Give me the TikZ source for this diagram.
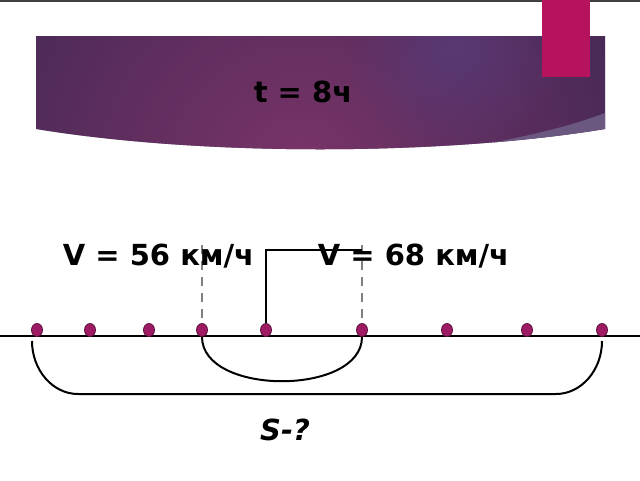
\documentclass[tikz,border=0pt]{standalone}
\usepackage{fontspec}
\setmainfont{DejaVu Sans}
\usetikzlibrary{shapes.geometric,fadings}
\definecolor{bandark}{HTML}{3F2853}
\definecolor{banmid}{HTML}{7A3468}
\definecolor{banglow}{HTML}{583874}
\definecolor{banwedge}{HTML}{6A5880}
\definecolor{pinkbar}{HTML}{B5135E}
\definecolor{dotfill}{HTML}{9E1B64}
\definecolor{dotedge}{HTML}{5A0F3C}
\tikzfading[name=glowfade, inner color=transparent!0, outer color=transparent!100]
\begin{document}
\begin{tikzpicture}[x=1pt,y=-1pt,
  dotnode/.style={ellipse, draw=dotedge, line width=0.8pt, fill=dotfill, minimum width=11pt, minimum height=13pt, inner sep=0pt},
  bigtext/.style={font=\fontsize{29}{34}\selectfont\bfseries, inner sep=0pt, anchor=base},
  axisline/.style={line width=2.8pt, black},
  bracketline/.style={line width=2pt, black},
  guideline/.style={dash pattern=on 9pt off 7pt, black!50, line width=1.1pt}]
\useasboundingbox (0,0) rectangle (640,480);
\fill[white] (0,0) rectangle (640,480);
\draw[line width=2pt, black!75] (0,1) -- (640,1);
% banner
\begin{scope}
  \clip (36,36) -- (605,36) -- (605,129) .. controls (440,156) and (200,156) .. (36,129) -- cycle;
  \fill[bandark] (0,0) rectangle (640,200);
  \fill[banmid, path fading=glowfade] (300,175) circle (400);
  \fill[banglow, path fading=glowfade] (455,48) circle (110);
  \fill[banwedge] (605,113) .. controls (560,130) and (510,140) .. (440,152) -- (440,200) -- (640,200) -- cycle;
\end{scope}
\fill[pinkbar] (542,0) rectangle (590,77);
% texts
\node[bigtext] (time) at (303,102) {t = 8ч};
% number line
\coordinate (axL) at (0,336);
\coordinate (axR) at (640,336);
\draw[axisline] (axL) -- (axR);
\coordinate (tc) at (266,250);
\coordinate (tr) at (362,250);
\coordinate (g1) at (202,245);
\coordinate (g2) at (362,245);
\coordinate (b1) at (32,341);
\coordinate (b2) at (602,341);
\path (37,330) node[dotnode] (d1) {}
      (90,330) node[dotnode] (d2) {}
      (149,330) node[dotnode] (d3) {}
      (202,330) node[dotnode] (d4) {}
      (266,330) node[dotnode] (d5) {}
      (362,330) node[dotnode] (d6) {}
      (447,330) node[dotnode] (d7) {}
      (527,330) node[dotnode] (d8) {}
      (602,330) node[dotnode] (d9) {};
\draw[guideline] (g1) -- (d4.north);
\draw[guideline] (g2) -- (d6.north);
\draw[bracketline] (d5.north) -- (tc) -- (tr);
\draw[bracketline] (d4.south) .. controls (202,396) and (362,396) .. (d6.south);
\draw[bracketline] (b1) .. controls (32,370) and (52.6,394) .. (78,394) -- (556,394) .. controls (581.4,394) and (602,370) .. (b2);
\node[bigtext] (v1) at (158.5,265) {V = 56 км/ч};
\node[bigtext] (v2) at (413.5,265) {V = 68 км/ч};
\node[bigtext, font=\fontsize{29}{34}\selectfont\bfseries\itshape] (s) at (285,440) {S-?};
\end{tikzpicture}
\end{document}
